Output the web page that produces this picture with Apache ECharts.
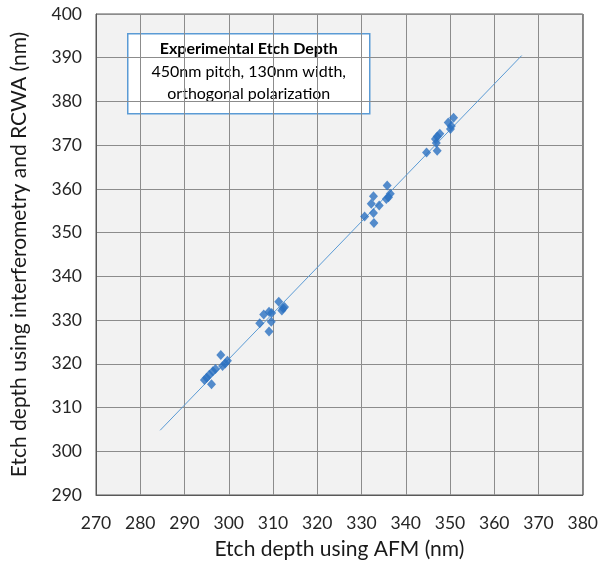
<!DOCTYPE html>
<html>
<head>
<meta charset="utf-8">
<script src="https://cdn.jsdelivr.net/npm/echarts@6/dist/echarts.min.js"></script>
<style>
  html, body { margin: 0; padding: 0; background: #fff; }
  #chart { width: 601px; height: 575px; }
</style>
</head>
<body>
<div id="chart"></div>
<script>
// AFM depth (x) vs interferometry/RCWA depth (y), nm
const afmDepth = [
  298.2, 299.7, 299.2, 298.6, 297.0, 296.4, 295.6, 295.0, 294.5, 296.1,
  309.1, 311.3, 312.3, 312.6, 312.0, 309.7, 309.1, 307.9, 307.0, 309.6,
  335.8, 336.5, 336.1, 335.6, 332.7, 332.2, 334.0, 332.7, 330.7, 332.8,
  350.8, 349.6, 350.3, 350.1, 347.7, 347.1, 346.7, 346.9, 344.7, 347.1
];
const rcwaDepth = [
  322.0, 320.7, 320.1, 319.5, 318.8, 318.3, 317.5, 316.8, 316.3, 315.3,
  327.4, 334.2, 332.7, 333.0, 332.2, 331.6, 331.9, 331.3, 329.3, 329.6,
  360.8, 358.9, 358.1, 357.7, 358.3, 356.6, 356.2, 354.5, 353.7, 352.2,
  376.3, 375.2, 374.4, 373.7, 372.6, 372.0, 371.4, 370.5, 368.3, 368.7
];
// linear trendline end points
const trendX = [284.5, 366.2];
const trendY = [304.8, 390.5];

const xTicks = { min: 270, max: 380, interval: 10 };
const yTicks = { min: 290, max: 400, interval: 10 };

const boxTitle = 'Experimental Etch Depth';
const boxLines = ['450nm pitch, 130nm width,', 'orthogonal polarization'];

const font = 'Lato, Open Sans, sans-serif';

const chart = echarts.init(document.getElementById('chart'));

const axisCommon = {
  type: 'value',
  axisLine: { show: true, lineStyle: { color: '#595959', width: 1 } },
  axisTick: { show: false },
  splitLine: { show: true, lineStyle: { color: '#8c8c8c', width: 1 } },
  axisLabel: { color: '#262626', fontSize: 17.5, fontFamily: font },
  nameLocation: 'middle',
  nameTextStyle: { color: '#1a1a1a', fontSize: 21, fontFamily: font }
};

chart.setOption({
  backgroundColor: '#fff',
  animation: false,
  grid: {
    left: 96, right: 15, top: 14, bottom: 80,
    show: true,
    backgroundColor: '#f2f2f2',
    borderColor: '#595959',
    borderWidth: 1
  },
  xAxis: Object.assign({}, axisCommon, {
    min: xTicks.min, max: xTicks.max, interval: xTicks.interval,
    name: 'Etch depth using AFM (nm)',
    nameGap: 44,
    axisLabel: Object.assign({}, axisCommon.axisLabel, { margin: 19 })
  }),
  yAxis: Object.assign({}, axisCommon, {
    min: yTicks.min, max: yTicks.max, interval: yTicks.interval,
    name: 'Etch depth using interferometry and RCWA (nm)',
    nameGap: 66,
    axisLabel: Object.assign({}, axisCommon.axisLabel, { margin: 14 })
  }),
  series: [
    {
      name: 'Trendline',
      type: 'line',
      data: trendX.map((x, i) => [x, trendY[i]]),
      symbol: 'none',
      lineStyle: { color: '#5b9bd5', width: 1 },
      z: 2
    },
    {
      name: 'Etch depth',
      type: 'scatter',
      data: afmDepth.map((x, i) => [x, rcwaDepth[i]]),
      symbol: 'diamond',
      symbolSize: [9, 10],
      itemStyle: { color: '#2a70c0' },
      z: 3
    }
  ],
  graphic: [
    {
      type: 'group',
      left: 127,
      top: 33,
      children: [
        {
          type: 'rect',
          shape: { x: 0, y: 0, width: 242, height: 80 },
          style: { fill: '#fff', stroke: '#5b9bd5', lineWidth: 1.5 }
        },
        {
          type: 'text',
          x: 121, y: 15,
          style: {
            text: boxTitle, fill: '#000', font: 'bold 16px ' + font,
            textAlign: 'center', textVerticalAlign: 'middle'
          }
        },
        {
          type: 'text',
          x: 121, y: 38,
          style: {
            text: boxLines[0], fill: '#000', font: '16px ' + font,
            textAlign: 'center', textVerticalAlign: 'middle'
          }
        },
        {
          type: 'text',
          x: 121, y: 60,
          style: {
            text: boxLines[1], fill: '#000', font: '16px ' + font,
            textAlign: 'center', textVerticalAlign: 'middle'
          }
        }
      ]
    }
  ]
});
</script>
</body>
</html>
